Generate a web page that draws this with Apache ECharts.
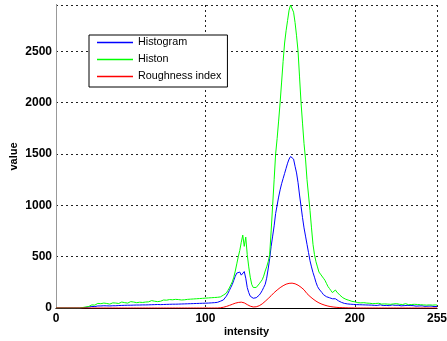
<!DOCTYPE html>
<html>
<head>
<meta charset="utf-8">
<script src="https://cdn.jsdelivr.net/npm/echarts@6/dist/echarts.min.js"></script>
<style>html,body{margin:0;padding:0;background:#fff}#c{width:447px;height:341px}</style>
</head>
<body>
<div id="c"></div>
<script>
// x categories: intensity levels 0..255
const intensity = Array.from({length: 256}, (_, i) => i);
const xTicks = [0, 100, 200, 255];
const yTicks = [0, 500, 1000, 1500, 2000, 2500];
const seriesNames = ['Histogram', 'Histon', 'Roughness index'];

const histogram = [
  0,0,0,0,0,0,0,0,0,0,
  0,0,0,0,0,0,0,0,3,5,
  6,8,10,12,15,18,14,16,20,17,
  20,18,22,19,21,24,20,23,22,25,
  22,26,24,27,25,28,26,29,27,28,
  27,30,28,31,29,31,29,32,30,33,
  30,33,31,34,32,35,33,36,34,36,
  33,36,34,37,35,38,36,38,37,39,
  37,40,38,41,39,42,40,43,41,44,
  42,45,43,46,44,47,45,48,46,49,
  47,50,48,52,50,54,52,56,55,60,
  66,70,78,95,115,140,170,200,230,270,
  310,340,355,350,320,305,355,290,200,150,
  115,100,95,95,100,110,125,145,170,200,
  230,290,380,480,600,700,800,920,1000,1080,
  1150,1210,1260,1310,1360,1410,1450,1475,1480,1450,
  1380,1315,1220,1100,990,880,780,700,620,540,
  460,400,345,300,250,210,185,170,150,130,
  120,110,105,100,95,90,95,90,80,70,
  62,55,50,45,42,40,38,37,36,35,
  35,33,30,32,28,31,27,30,26,29,
  32,28,30,26,29,25,28,31,27,24,
  28,25,29,23,27,30,24,26,22,27,
  25,21,26,23,20,25,22,24,19,23,
  21,18,22,20,17,21,19,16,20,18,
  15,19,17,14,16,15
];

const histon = [
  0,0,0,0,0,0,0,0,0,0,
  0,0,0,0,0,0,0,0,5,8,
  10,12,15,22,30,40,28,35,45,38,
  42,36,48,40,44,52,38,46,50,42,
  48,55,44,50,58,46,52,60,48,55,
  62,50,58,64,52,60,56,66,54,62,
  58,68,60,64,72,58,66,70,62,74,
  66,72,78,68,76,70,82,74,80,72,
  84,76,82,88,78,86,80,90,84,92,
  86,94,88,96,90,98,92,100,94,102,
  96,104,98,106,100,108,102,110,104,112,
  108,118,125,135,145,170,195,225,255,300,
  360,430,500,560,640,710,600,690,520,400,
  300,230,200,190,200,215,235,255,275,310,
  360,400,450,520,750,1000,1250,1500,1650,1820,
  2000,2200,2400,2580,2700,2800,2900,2950,2940,2880,
  2780,2650,2500,2250,2000,1800,1600,1450,1250,1100,
  950,780,620,520,450,400,350,330,320,290,
  270,240,210,190,170,150,165,175,155,140,
  125,110,100,92,85,80,75,70,65,62,
  60,55,52,48,50,46,52,44,48,42,
  46,50,42,48,44,40,46,42,38,44,
  40,46,38,42,36,44,40,34,42,38,
  36,40,34,38,42,36,32,38,34,40,
  36,30,34,38,32,36,30,34,28,32,
  30,34,28,32,30,28
];

const roughness = [
  0,0,0,0,0,0,0,0,0,0,
  0,0,0,0,0,0,0,0,0,0,
  0,0,0,0,0,0,0,0,0,0,
  0,0,0,0,0,0,0,0,0,0,
  0,0,0,0,0,0,0,0,0,0,
  0,0,0,0,0,0,0,0,0,0,
  0,0,0,0,0,0,0,0,0,0,
  0,0,0,0,0,0,0,0,0,0,
  0,0,0,0,0,0,0,0,0,0,
  0,0,0,0,0,0,0,0,0,0,
  0,0,0,0,0,0,0,0,0,1,
  2,4,7,11,15,20,25,30,36,42,
  47,51,54,56,57,55,50,42,33,25,
  18,13,10,10,12,16,22,30,40,52,
  65,78,92,105,120,135,150,162,175,187,
  198,208,217,225,232,237,240,242,242,240,
  236,230,222,213,202,190,177,163,140,125,
  112,100,88,77,67,58,50,43,37,32,
  27,23,19,16,13,11,9,7,6,5,
  4,3,3,2,2,1,1,1,1,0,
  0,0,0,0,0,0,0,0,0,0,
  0,0,0,0,0,0,0,0,0,0,
  0,0,0,0,0,0,0,0,0,0,
  0,0,0,0,0,0,0,0,0,0,
  0,0,0,0,0,0,0,0,0,0,
  0,0,0,0,0,0
];

const colors = ['#0000ff', '#00ff00', '#ff0000'];
const pairs = arr => intensity.map((x, i) => [x, arr[i]]);

const tickFont = {fontFamily: '"Liberation Sans", Arial, sans-serif', fontSize: 12, fontWeight: 'bold', color: '#000'};
const grid = {left: 56, right: 10, top: 5, bottom: 33, containLabel: false, outerBoundsMode: 'none'};
const dash = {color: '#222', width: 1, type: [2, 3]};

const chart = echarts.init(document.getElementById('c'), null, {renderer: 'canvas'});
chart.setOption({
  animation: false,
  backgroundColor: '#fff',
  grid: grid,
  legend: {
    orient: 'vertical',
    left: 89, top: 35,
    padding: [1, 6, 4, 8],
    icon: 'rect',
    itemWidth: 36, itemHeight: 1.5, itemGap: 4, itemTextGap: 2,
    borderColor: '#000', borderWidth: 1, backgroundColor: '#fff',
    textStyle: {fontFamily: '"Liberation Sans", Arial, sans-serif', fontSize: 10.8, color: '#000', lineHeight: 13},
    data: seriesNames
  },
  xAxis: [{
    type: 'value', min: xTicks[0], max: xTicks[xTicks.length - 1], interval: xTicks[1] - xTicks[0],
    name: 'intensity', nameLocation: 'middle', nameGap: 18, nameMoveOverlap: false,
    nameTextStyle: {fontFamily: '"Liberation Sans", Arial, sans-serif', fontSize: 11, fontWeight: 'bold', color: '#000'},
    axisLine: {show: true, lineStyle: {color: '#999', width: 1}},
    axisTick: {show: false},
    axisLabel: Object.assign({margin: 5, formatter: v => String(v)}, tickFont),
    splitLine: {show: true, lineStyle: dash}
  }, {
    type: 'value', position: 'top', min: xTicks[0], max: xTicks[xTicks.length - 1],
    axisLine: {show: true, lineStyle: {color: '#000', width: 1}},
    axisTick: {show: false}, axisLabel: {show: false}, splitLine: {show: false}
  }],
  yAxis: [{
    type: 'value', min: 0, max: 2950, interval: yTicks[1] - yTicks[0],
    name: 'value', nameLocation: 'middle', nameGap: 37, nameRotate: 90, nameMoveOverlap: false,
    nameTextStyle: {fontFamily: '"Liberation Sans", Arial, sans-serif', fontSize: 11, fontWeight: 'bold', color: '#000'},
    axisLine: {show: true, lineStyle: {color: '#000', width: 1}},
    axisTick: {show: false},
    axisLabel: Object.assign({margin: 4, showMaxLabel: false, formatter: v => String(v)}, tickFont),
    splitLine: {show: true, lineStyle: dash}
  }, {
    type: 'value', position: 'right', min: 0, max: 2950,
    axisLine: {show: true, lineStyle: {color: '#999', width: 1}},
    axisTick: {show: false}, axisLabel: {show: false}, splitLine: {show: false}
  }],
  series: [
    {name: seriesNames[0], type: 'line', data: pairs(histogram), symbol: 'none', color: colors[0], lineStyle: {width: 1, color: colors[0]}},
    {name: seriesNames[1], type: 'line', data: pairs(histon), symbol: 'none', color: colors[1], lineStyle: {width: 1, color: colors[1]}},
    {name: seriesNames[2], type: 'line', data: pairs(roughness), symbol: 'none', color: colors[2], lineStyle: {width: 1, color: colors[2]}}
  ]
});
</script>
</body>
</html>
